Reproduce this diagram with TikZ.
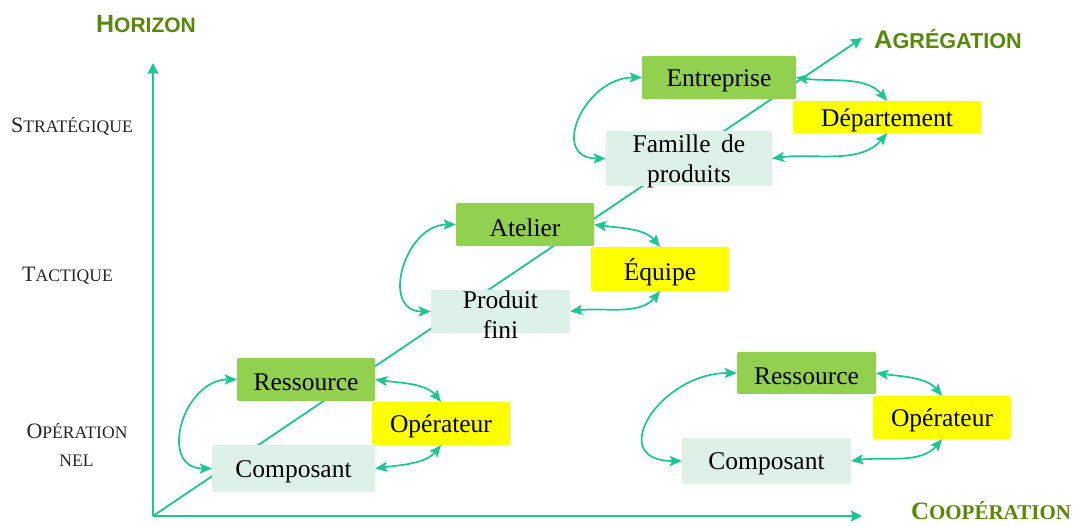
\documentclass[tikz,border=0pt]{standalone}
\usepackage{fontspec}
\setmainfont{Liberation Serif}
\newfontfamily\hsans{Liberation Sans}
\usetikzlibrary{arrows.meta}
\definecolor{ln}{RGB}{26,198,146}
\definecolor{ttl}{RGB}{88,135,10}
\definecolor{bgreen}{RGB}{146,208,80}
\definecolor{byel}{RGB}{255,255,0}
\definecolor{bmint}{RGB}{221,241,232}
\newcommand\scA[2]{{\fontsize{22}{26}\selectfont #1}{\fontsize{17.6}{20}\selectfont #2}}
\newcommand\scT[2]{{\fontsize{25}{30}\selectfont #1}{\fontsize{21}{25}\selectfont #2}}
\newcommand\scG[2]{{\fontsize{25.5}{30}\selectfont #1}{\fontsize{21.6}{25}\selectfont #2}}
\begin{document}
\begin{tikzpicture}[x=1pt,y=1pt,
  box/.style={inner sep=0pt, rounded corners=1.5pt, draw=none},
  gbox/.style={box, fill=bgreen},
  ybox/.style={box, fill=byel},
  mbox/.style={box, fill=bmint},
  btxt/.style={inner sep=0pt, align=center, yshift=-3pt, font=\fontsize{25.5}{29.5}\selectfont},
  axis/.style={draw=ln, line width=1.8pt, -{Stealth[length=11pt,width=11pt,inset=1.5pt]}},
  link/.style={draw=ln, line width=1.7pt, {Stealth[length=12pt,width=10pt,inset=2.5pt]}-{Stealth[length=12pt,width=10pt,inset=2.5pt]}},
  lbl/.style={inner sep=0pt, anchor=base, text=black!85},
  ttlb/.style={inner sep=0pt, anchor=base, text=ttl},
  upr/.style={out=-8,in=130,looseness=0.9},
  lwr/.style={out=-130,in=8,looseness=0.9},
]
\useasboundingbox (0,0) rectangle (1076,525);

% axes
\coordinate (O) at (153,9);
\coordinate (Htip) at (153,462);
\coordinate (Ctip) at (862,9);
\coordinate (Atip) at (862,487);
\draw[axis] (O) -- (Htip);
\draw[axis] (O) -- (Ctip);
\draw[axis] (O) -- (Atip);

% axis titles
\node[ttlb] (hz) at (146,492) {\hsans\bfseries\scT{H}{ORIZON}};
\node[ttlb] (ag) at (948,476) {\hsans\bfseries\scG{A}{GRÉGATION}};
\node[ttlb] (co) at (991,6) {\bfseries\scT{C}{OOPÉRATION}};
\node[lbl] (st) at (72,392) {\scA{S}{TRATÉGIQUE}};
\node[lbl] (ta) at (67.5,243) {\scA{T}{ACTIQUE}};
\node[lbl] (op) at (77,87) {\scA{O}{PÉRATION}};
\node[lbl] (ne) at (76.5,59) {\scA{}{NEL}};

% boxes - left group
\node[mbox, minimum width=163pt, minimum height=47pt] (CompL) at (293.5,56.5) {};
\node[gbox, minimum width=138pt, minimum height=43pt] (ResL) at (306,145.5) {};
\node[ybox, minimum width=138pt, minimum height=43pt] (OpL) at (441,101.5) {};
% middle group
\node[mbox, minimum width=139pt, minimum height=43pt] (Prod) at (500.5,213.5) {};
\node[gbox, minimum width=138pt, minimum height=43pt] (Atel) at (525,300.5) {};
\node[ybox, minimum width=138pt, minimum height=44pt] (Equi) at (660,256) {};
% top group
\node[mbox, minimum width=166pt, minimum height=55pt] (Fam) at (689,366.5) {};
\node[gbox, minimum width=154pt, minimum height=43pt] (Entr) at (719,447.5) {};
\node[ybox, minimum width=188pt, minimum height=32pt] (Dep) at (887,408) {};
% right group
\node[mbox, minimum width=169pt, minimum height=46pt] (CompR) at (766.5,64) {};
\node[gbox, minimum width=139pt, minimum height=42pt] (ResR) at (806.5,152) {};
\node[ybox, minimum width=138pt, minimum height=43pt] (OpR) at (942,107.5) {};

% box texts
\node[btxt] (tCompL) at (CompL) {Composant};
\node[btxt] (tResL) at (ResL) {Ressource};
\node[btxt] (tOpL) at (OpL) {Opérateur};
\node[btxt] (tProd) at (Prod) {Produit\\fini};
\node[btxt] (tAtel) at (Atel) {Atelier};
\node[btxt] (tEqui) at (Equi) {Équipe};
\node[btxt] (tFam) at (Fam) {Famille\ \,de\\produits};
\node[btxt] (tEntr) at (Entr) {Entreprise};
\node[btxt] (tDep) at (Dep) {Département};
\node[btxt] (tCompR) at (CompR) {Composant};
\node[btxt] (tResR) at (ResR) {Ressource};
\node[btxt] (tOpR) at (OpR) {Opérateur};

% links
\draw[link] (ResL.west) to[out=180,in=180,looseness=1.5] (CompL.west);
\draw[link] (ResL.east) to[upr] (OpL.north);
\draw[link] (OpL.south) to[lwr] (CompL.east);

\draw[link] (Atel.west) to[out=180,in=180,looseness=1.45] (Prod.west);
\draw[link] (Atel.east) to[upr] (Equi.north);
\draw[link] (Equi.south) to[lwr] (Prod.east);

\draw[link] (Entr.west) to[out=180,in=180,looseness=1.65] (Fam.west);
\draw[link] (Entr.east) to[upr] (Dep.north);
\draw[link] (Dep.south) to[lwr] (Fam.east);

\draw[link] (ResR.west) to[out=180,in=180,looseness=1.9] (CompR.west);
\draw[link] (ResR.east) to[upr] (OpR.north);
\draw[link] (OpR.south) to[lwr] (CompR.east);
\end{tikzpicture}
\end{document}
